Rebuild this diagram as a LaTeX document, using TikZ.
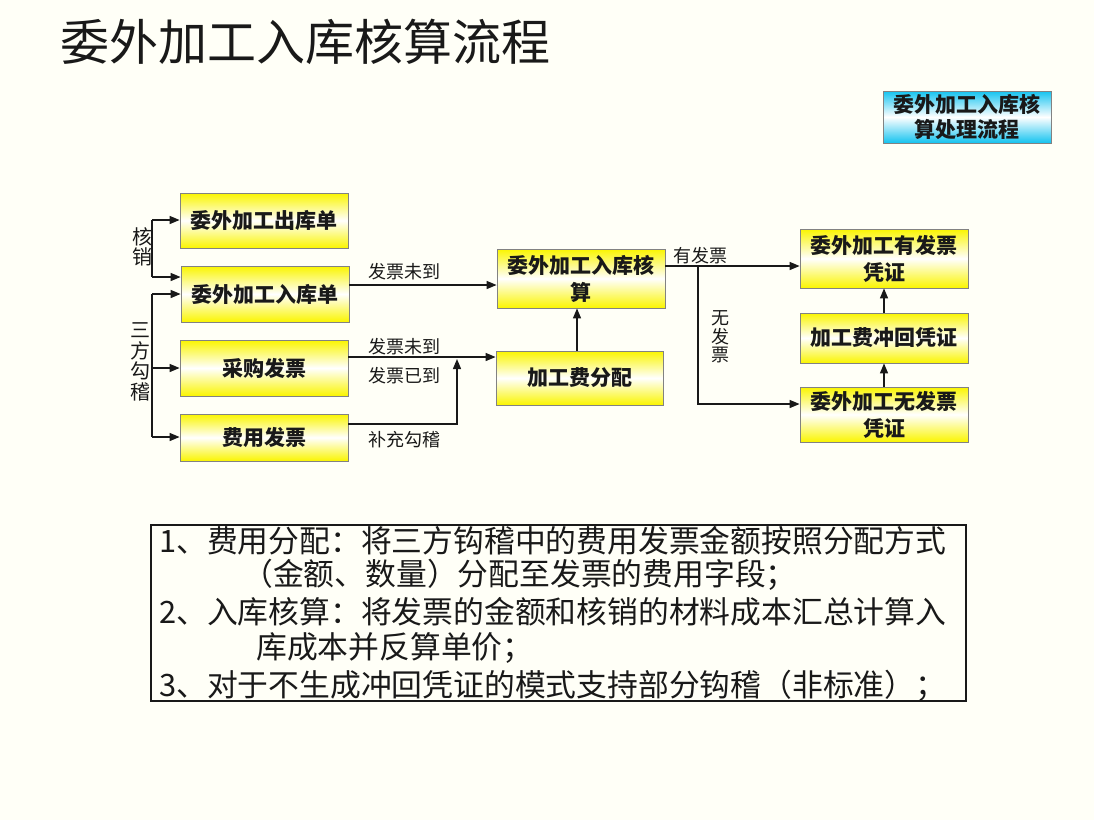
\documentclass[tikz,border=0pt]{standalone}
\usepackage{fontspec}
\setmainfont{Noto Sans CJK SC}
\usetikzlibrary{arrows.meta}
\definecolor{bg}{RGB}{255,255,247}
\definecolor{byel}{RGB}{250,245,0}
\definecolor{bcyan}{RGB}{20,195,240}
\definecolor{bord}{RGB}{130,130,130}
\definecolor{ink}{RGB}{25,25,25}
\begin{document}
\begin{tikzpicture}[x=1pt,y=-1pt,
 box/.style={draw=bord,line width=0.8pt,top color=byel,bottom color=byel,middle color=white,inner sep=0pt,align=center,text=ink,font=\fontsize{21}{27}\selectfont\bfseries},
 cbox/.style={box,top color=bcyan,bottom color=bcyan,middle color=white,font=\fontsize{21}{25}\selectfont\bfseries},
 conn/.style={line width=1.4pt,draw=ink,-{Triangle[length=10pt,width=8pt]}},
 ln/.style={line width=1.4pt,draw=ink},
 lbl/.style={font=\fontsize{18}{18}\selectfont,inner sep=0pt,text=ink},
 vlbl/.style={font=\fontsize{20}{20.5}\selectfont,inner sep=0pt,align=center,text=ink},
 note/.style={font=\fontsize{30.8}{31}\selectfont,inner sep=0pt,anchor=west,text=ink},
]
\useasboundingbox[fill=bg] (0,0) rectangle (1094,820);

\node[font=\fontsize{49}{49}\selectfont,anchor=west,inner sep=0pt,text=ink] (title) at (60,42) {委外加工入库核算流程};

\node[cbox,minimum width=168pt,minimum height=52pt] (blue) at (967,117) {委外加工入库核\\算处理流程};

\node[box,minimum width=168pt,minimum height=55pt] (out) at (264,220.5) {委外加工出库单};
\node[box,minimum width=168pt,minimum height=56pt] (in) at (265,294) {委外加工入库单};
\node[box,minimum width=168pt,minimum height=56pt] (cg) at (264,368) {采购发票};
\node[box,minimum width=168pt,minimum height=47pt] (fy) at (264,437.5) {费用发票};
\node[box,minimum width=168pt,minimum height=59pt] (hs) at (581,278.5) {委外加工入库核\\算};
\node[box,minimum width=167pt,minimum height=54pt] (fp) at (579.5,378) {加工费分配};
\node[box,minimum width=168pt,minimum height=59pt] (yv) at (884,258.5) {委外加工有发票\\凭证};
\node[box,minimum width=168pt,minimum height=50pt] (ch) at (884,338) {加工费冲回凭证};
\node[box,minimum width=168pt,minimum height=55pt] (wv) at (884,414.5) {委外加工无发票\\凭证};

% 核销 bracket
\coordinate (k1) at (152,220);
\coordinate (k2) at (152,277);
\draw[ln] (k1) -- (k2);
\draw[conn] (k1) -- (k1 -| out.west);
\draw[conn] (k2) -- (k2 -| in.west);
\node[vlbl] (kx) at (142,247) {核\\销};

% 三方勾稽 bracket
\coordinate (s1) at (152,294);
\coordinate (s2) at (152,437);
\coordinate (s3) at (152,368);
\draw[ln] (s1) -- (s2);
\draw[conn] (s1) -- (s1 -| in.west);
\draw[conn] (s3) -- (s3 -| cg.west);
\draw[conn] (s2) -- (s2 -| fy.west);
\node[vlbl] (sf) at (140,362) {三\\方\\勾\\稽};

% main flows
\draw[conn] ([yshift=9pt]in.east) -- ([yshift=9pt]in.east -| hs.west);
\node[lbl] (l1) at (404,272) {发票未到};

\draw[conn] ([yshift=11pt]cg.east) -- ([yshift=11pt]cg.east -| fp.west);
\node[lbl] (l2) at (404,347) {发票未到};
\node[lbl] (l3) at (404,376) {发票已到};

\coordinate (j) at (457,359);
\draw[conn] ([yshift=13.5pt]fy.east) -| (j);
\node[lbl] (l4) at (404,440) {补充勾稽};

\draw[conn] ([xshift=-2.5pt]fp.north) -- ([xshift=-2.5pt]fp.north |- hs.south);

\draw[conn] ([yshift=12.5pt]hs.east) -- ([yshift=12.5pt]hs.east -| yv.west);
\node[lbl] (l5) at (700,256) {有发票};
\coordinate (b) at (698,266);
\draw[conn] (b) |- ([yshift=10.5pt]wv.west);
\node[lbl,align=center,font=\fontsize{18}{18.5}\selectfont] (l6) at (720,337) {无\\发\\票};

\draw[conn] (wv.north) -- (ch.south);
\draw[conn] (ch.north) -- (yv.south);

% notes
\node[draw=ink,line width=1.4pt,minimum width=815pt,minimum height=176pt,inner sep=0pt] (nb) at (558.5,613) {};
\node[note] (n1) at (159,541) {1、费用分配：将三方钩稽中的费用发票金额按照分配方式};
\node[note] (n2) at (242,575) {（金额、数量）分配至发票的费用字段；};
\node[note] (n3) at (159,612) {2、入库核算：将发票的金额和核销的材料成本汇总计算入};
\node[note] (n4) at (256,648) {库成本并反算单价；};
\node[note] (n5) at (159,686) {3、对于不生成冲回凭证的模式支持部分钩稽（非标准）；};
\end{tikzpicture}
\end{document}
